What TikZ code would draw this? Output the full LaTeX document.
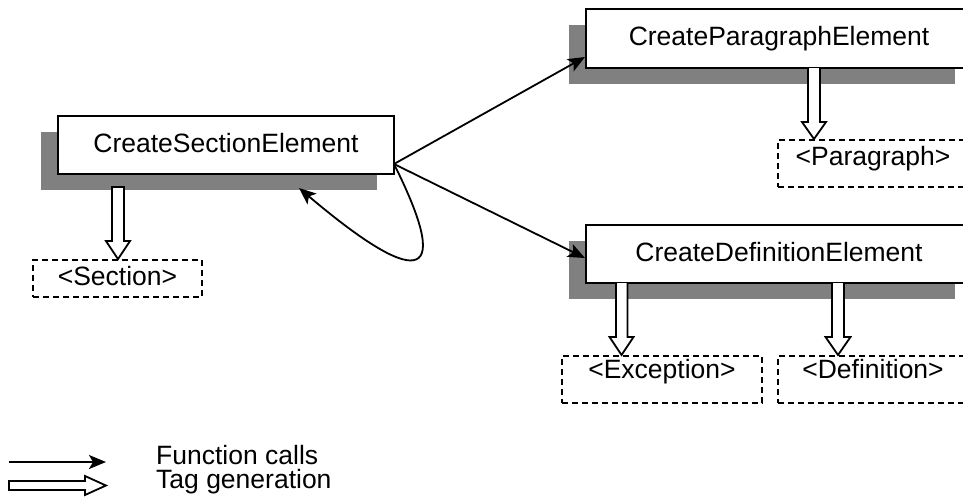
\documentclass[tikz,border=0pt]{standalone}
\usepackage{fontspec}
\setmainfont{Liberation Sans}
\usetikzlibrary{arrows.meta,shadows}

\definecolor{shadowgray}{HTML}{808080}

\tikzset{
  fnbox/.style={draw, line width=2pt, fill=white, inner sep=0pt,
    text height=19pt, text depth=5pt,
    general shadow={fill=shadowgray, shadow xshift=-17pt, shadow yshift=-16pt}},
  tagbox/.style={draw, dashed, dash pattern=on 6pt off 4pt, line width=1.6pt,
    inner sep=0pt, text height=19pt},
  callarrow/.style={line width=1.8pt,
    -{Stealth[length=17pt, width=14pt, inset=4pt]}},
  hollow/.style={draw, line width=1.8pt, fill=white, line join=miter},
  legendtext/.style={anchor=base west, inner sep=0pt},
}

\begin{document}
\begin{tikzpicture}[x=1pt, y=-1pt, font=\fontsize{26.5pt}{30pt}\selectfont]
  \useasboundingbox (0,0) rectangle (963,501);

  % function boxes with drop shadows
  \node[fnbox, minimum width=336pt, minimum height=58pt] (sec) at (226,145) {CreateSectionElement};
  \node[fnbox, minimum width=386pt, minimum height=59pt] (par) at (779,38.5) {CreateParagraphElement};
  \node[fnbox, minimum width=386pt, minimum height=58pt] (def) at (779,254) {CreateDefinitionElement};

  % generated tags
  \node[tagbox, minimum width=169pt, minimum height=37pt, text depth=5pt] (sectag) at (117.5,278.5) {<Section>};
  \node[tagbox, minimum width=190pt, minimum height=47pt, text depth=15pt] (partag) at (873,163.5) {<Paragraph>};
  \node[tagbox, minimum width=200pt, minimum height=47pt, text depth=21pt] (exctag) at (662,379.5) {<Exception>};
  \node[tagbox, minimum width=190pt, minimum height=47pt, text depth=21pt] (deftag) at (873,379.5) {<Definition>};

  % tag generation arrows
  \path[hollow] (112,187) -- (124,187) -- (124,241) -- (130,241)
    -- (118,259) -- (106,241) -- (112,241) -- cycle;
  \path[hollow] (808,68) -- (808,122) -- (802,122) -- (814,139)
    -- (826,122) -- (820,122) -- (820,68);
  \path[hollow] (616,283) -- (616,337) -- (609.5,337) -- (621.5,355)
    -- (633.5,337) -- (627.5,337) -- (627.5,283);
  \path[hollow] (832,283) -- (832,337) -- (825.5,337) -- (838,355)
    -- (850.5,337) -- (844,337) -- (844,283);

  % function calls
  \coordinate (callsrc) at (394,164);
  \draw[callarrow] (callsrc) -- (par.west |- 0,57);
  \draw[callarrow] (callsrc) -- (def.west |- 0,258);
  \coordinate (selfend) at (299,188);
  \draw[callarrow] (callsrc) .. controls (458,292) and (410,282) .. (selfend);

  % legend
  \coordinate (l1a) at (9,462);
  \coordinate (l1b) at (106,462);
  \draw[callarrow] (l1a) -- (l1b);
  \path[hollow] (9,481) -- (85,481) -- (85,476) -- (106,485.5)
    -- (85,495) -- (85,490) -- (9,490) -- cycle;
  \node[legendtext] (lfun) at (156,464) {Function calls};
  \node[legendtext] (ltag) at (156,488) {Tag generation};
\end{tikzpicture}
\end{document}
